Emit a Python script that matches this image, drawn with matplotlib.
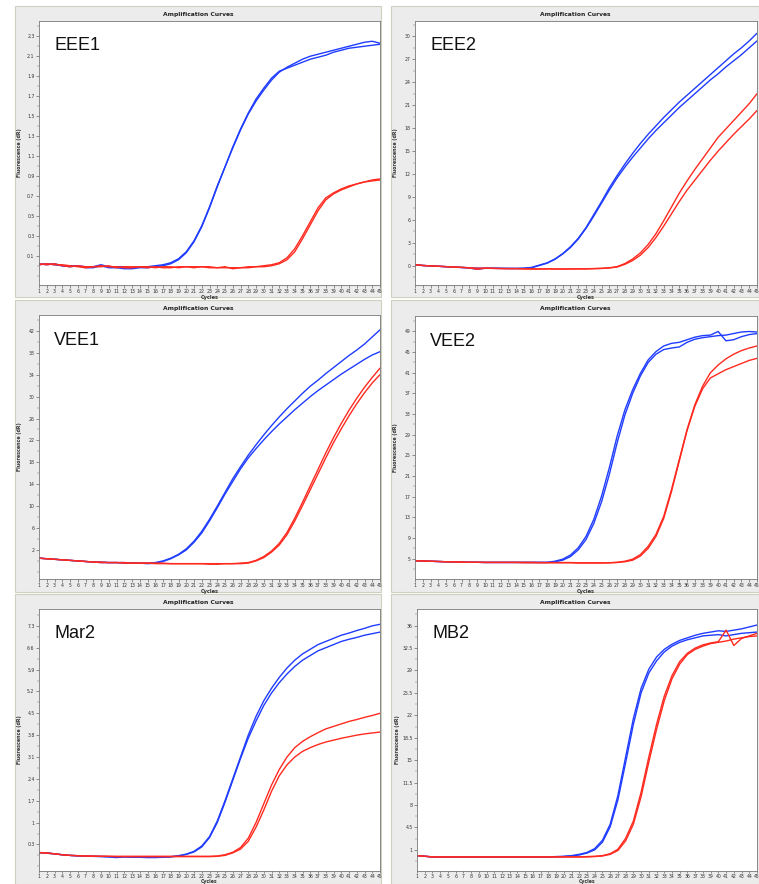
import matplotlib
matplotlib.use("Agg")
import matplotlib.pyplot as plt
from matplotlib.patches import Rectangle
from matplotlib.ticker import FixedLocator, AutoMinorLocator
import numpy as np

cycles = list(range(1, 46))

# ---------------- data ----------------
eee1_blue_a = [0.02, 0.01, 0.02, 0.00, 0.00, 0.00, -0.01, -0.01, 0.01, -0.01,
               -0.01, -0.01, -0.02, -0.01, -0.01, 0.00, 0.01, 0.03, 0.07, 0.14,
               0.25, 0.40, 0.59, 0.80, 0.99, 1.18, 1.36, 1.52, 1.65, 1.76,
               1.86, 1.94, 1.99, 2.03, 2.07, 2.10, 2.12, 2.14, 2.16, 2.18,
               2.20, 2.22, 2.24, 2.25, 2.23]
eee1_blue_b = [0.01, 0.02, 0.01, 0.00, -0.01, 0.00, -0.02, -0.02, 0.00, -0.02,
               -0.02, -0.03, -0.03, -0.02, -0.02, -0.01, 0.00, 0.02, 0.06, 0.13,
               0.24, 0.39, 0.58, 0.79, 0.99, 1.19, 1.37, 1.53, 1.67, 1.78,
               1.88, 1.95, 1.98, 2.01, 2.04, 2.07, 2.09, 2.11, 2.14, 2.16,
               2.18, 2.19, 2.20, 2.21, 2.22]
eee1_red_a = [0.02, 0.01, 0.02, 0.00, -0.01, 0.00, -0.01, -0.01, -0.01, 0.00,
              -0.02, -0.01, -0.01, -0.01, -0.01, -0.02, -0.01, -0.01, -0.02, -0.01,
              -0.01, -0.01, -0.01, -0.02, -0.02, -0.02, -0.02, -0.01, -0.01, 0.00,
              0.01, 0.03, 0.08, 0.17, 0.30, 0.44, 0.58, 0.68, 0.73, 0.77,
              0.80, 0.82, 0.84, 0.86, 0.87]
eee1_red_b = [0.01, 0.02, 0.01, 0.01, 0.00, -0.01, -0.02, -0.01, 0.00, -0.01,
              -0.01, -0.02, -0.02, -0.01, -0.02, -0.01, -0.02, -0.02, -0.01, -0.01,
              -0.02, -0.01, -0.02, -0.02, -0.01, -0.03, -0.02, -0.02, -0.01, -0.01,
              0.00, 0.02, 0.06, 0.14, 0.27, 0.41, 0.55, 0.66, 0.72, 0.76,
              0.79, 0.82, 0.84, 0.85, 0.86]

eee2_blue_a = [0.15, 0.05, 0.00, -0.05, -0.10, -0.15, -0.20, -0.25, -0.30, -0.30,
               -0.30, -0.32, -0.32, -0.33, -0.30, -0.20, 0.10, 0.40, 0.90, 1.60,
               2.50, 3.60, 5.00, 6.70, 8.40, 10.2, 11.8, 13.3, 14.7, 16.0,
               17.2, 18.3, 19.4, 20.4, 21.4, 22.3, 23.2, 24.1, 25.0, 25.9,
               26.8, 27.7, 28.5, 29.4, 30.4]
eee2_blue_b = [0.15, 0.05, 0.00, -0.05, -0.12, -0.17, -0.22, -0.28, -0.45, -0.32,
               -0.32, -0.33, -0.35, -0.35, -0.33, -0.25, 0.05, 0.35, 0.85, 1.55,
               2.40, 3.50, 4.90, 6.50, 8.20, 9.90, 11.5, 12.9, 14.2, 15.4,
               16.6, 17.7, 18.7, 19.7, 20.7, 21.6, 22.5, 23.4, 24.3, 25.1,
               26.0, 26.8, 27.6, 28.5, 29.4]
eee2_red_a = [0.15, 0.05, 0.00, -0.05, -0.10, -0.15, -0.20, -0.25, -0.45, -0.30,
              -0.33, -0.35, -0.35, -0.35, -0.38, -0.38, -0.40, -0.38, -0.40, -0.40,
              -0.40, -0.38, -0.38, -0.35, -0.32, -0.25, -0.10, 0.30, 0.90, 1.70,
              2.80, 4.20, 5.90, 7.70, 9.50, 11.1, 12.6, 14.0, 15.4, 16.8,
              17.9, 19.0, 20.1, 21.2, 22.5]
eee2_red_b = [0.15, 0.05, 0.00, -0.05, -0.10, -0.15, -0.20, -0.25, -0.30, -0.30,
              -0.32, -0.35, -0.37, -0.37, -0.40, -0.42, -0.42, -0.40, -0.40, -0.42,
              -0.40, -0.40, -0.40, -0.37, -0.34, -0.28, -0.15, 0.20, 0.70, 1.40,
              2.40, 3.70, 5.20, 6.80, 8.40, 9.90, 11.2, 12.5, 13.8, 15.0,
              16.1, 17.2, 18.2, 19.2, 20.3]

vee1_blue_a = [0.5, 0.4, 0.3, 0.2, 0.1, 0.0, -0.1, -0.2, -0.2, -0.3,
               -0.3, -0.3, -0.4, -0.4, -0.4, -0.3, 0.0, 0.5, 1.2, 2.2,
               3.6, 5.4, 7.6, 10.0, 12.5, 15.0, 17.2, 19.3, 21.2, 23.0,
               24.7, 26.3, 27.8, 29.2, 30.6, 31.9, 33.0, 34.2, 35.3, 36.4,
               37.5, 38.5, 39.6, 40.9, 42.2]
vee1_blue_b = [0.5, 0.4, 0.3, 0.2, 0.1, 0.0, -0.1, -0.2, -0.3, -0.3,
               -0.3, -0.4, -0.4, -0.4, -0.5, -0.4, -0.1, 0.4, 1.1, 2.0,
               3.4, 5.1, 7.3, 9.7, 12.2, 14.5, 16.8, 18.8, 20.5, 22.1,
               23.6, 25.0, 26.3, 27.6, 28.8, 30.0, 31.1, 32.1, 33.1, 34.1,
               35.0, 35.9, 36.8, 37.6, 38.2]
vee1_red_a = [0.5, 0.4, 0.3, 0.2, 0.1, 0.0, -0.1, -0.2, -0.2, -0.3,
              -0.3, -0.3, -0.4, -0.4, -0.4, -0.4, -0.4, -0.5, -0.5, -0.5,
              -0.5, -0.5, -0.5, -0.5, -0.5, -0.5, -0.4, -0.3, 0.1, 0.8,
              1.8, 3.2, 5.2, 7.8, 10.7, 13.7, 16.7, 19.7, 22.5, 25.1,
              27.5, 29.7, 31.7, 33.5, 35.2]
vee1_red_b = [0.5, 0.4, 0.3, 0.2, 0.1, 0.0, -0.1, -0.2, -0.3, -0.3,
              -0.3, -0.4, -0.4, -0.4, -0.4, -0.5, -0.5, -0.5, -0.5, -0.5,
              -0.5, -0.5, -0.6, -0.6, -0.5, -0.5, -0.5, -0.4, 0.0, 0.6,
              1.6, 2.9, 4.8, 7.3, 10.1, 13.0, 15.9, 18.8, 21.6, 24.1,
              26.5, 28.7, 30.7, 32.5, 34.0]

vee2_blue_a = [4.6, 4.55, 4.5, 4.45, 4.4, 4.4, 4.35, 4.3, 4.3, 4.3,
               4.3, 4.3, 4.3, 4.3, 4.3, 4.3, 4.3, 4.3, 4.5, 4.9,
               5.7, 7.1, 9.3, 12.6, 17.1, 22.6, 28.7, 33.8, 37.7, 40.9,
               43.5, 45.1, 46.2, 46.7, 46.9, 47.4, 47.9, 48.2, 48.3, 49.0,
               47.2, 47.4, 48.0, 48.4, 48.6]
vee2_blue_b = [4.6, 4.55, 4.5, 4.45, 4.4, 4.35, 4.3, 4.3, 4.3, 4.25,
               4.25, 4.25, 4.25, 4.25, 4.25, 4.25, 4.25, 4.25, 4.4, 4.7,
               5.4, 6.7, 8.7, 11.8, 16.0, 21.3, 27.4, 32.8, 37.0, 40.4,
               43.0, 44.6, 45.5, 45.8, 46.0, 46.9, 47.5, 47.8, 48.0, 48.2,
               48.3, 48.6, 48.9, 49.0, 48.9]
vee2_red_a = [4.6, 4.55, 4.5, 4.45, 4.4, 4.4, 4.35, 4.3, 4.3, 4.3,
              4.3, 4.3, 4.3, 4.3, 4.3, 4.3, 4.25, 4.25, 4.25, 4.25,
              4.25, 4.2, 4.2, 4.2, 4.2, 4.2, 4.3, 4.5, 4.9, 5.8,
              7.4, 9.7, 13.2, 18.4, 24.2, 30.0, 34.8, 38.4, 41.0, 42.5,
              43.7, 44.6, 45.3, 45.8, 46.2]
vee2_red_b = [4.6, 4.55, 4.5, 4.45, 4.4, 4.35, 4.3, 4.3, 4.3, 4.25,
              4.25, 4.25, 4.25, 4.25, 4.2, 4.2, 4.2, 4.2, 4.2, 4.2,
              4.2, 4.15, 4.15, 4.15, 4.15, 4.2, 4.25, 4.4, 4.7, 5.5,
              7.0, 9.3, 12.8, 18.0, 23.9, 29.8, 34.5, 37.9, 40.0, 40.8,
              41.6, 42.2, 42.8, 43.4, 43.8]

mar2_blue_a = [0.04, 0.03, 0.00, -0.03, -0.05, -0.06, -0.07, -0.08, -0.08, -0.09,
               -0.11, -0.09, -0.10, -0.10, -0.10, -0.11, -0.10, -0.09, -0.06, -0.01,
               0.08, 0.25, 0.55, 1.05, 1.70, 2.40, 3.10, 3.80, 4.40, 4.90,
               5.30, 5.65, 5.95, 6.20, 6.40, 6.55, 6.70, 6.80, 6.90, 7.00,
               7.07, 7.15, 7.22, 7.30, 7.35]
mar2_blue_b = [0.04, 0.02, 0.00, -0.03, -0.05, -0.07, -0.08, -0.08, -0.09, -0.10,
               -0.12, -0.10, -0.11, -0.11, -0.12, -0.12, -0.11, -0.10, -0.07, -0.02,
               0.06, 0.22, 0.52, 1.00, 1.65, 2.35, 3.05, 3.70, 4.25, 4.75,
               5.15, 5.48, 5.76, 6.00, 6.20, 6.35, 6.50, 6.60, 6.70, 6.80,
               6.87, 6.93, 7.00, 7.05, 7.10]
mar2_red_a = [0.04, 0.03, 0.00, -0.03, -0.05, -0.06, -0.07, -0.07, -0.08, -0.08,
              -0.08, -0.08, -0.08, -0.08, -0.08, -0.08, -0.08, -0.08, -0.08, -0.08,
              -0.08, -0.08, -0.08, -0.07, -0.03, 0.05, 0.20, 0.50, 1.00, 1.60,
              2.20, 2.70, 3.10, 3.40, 3.60, 3.75, 3.88, 4.00, 4.08, 4.16,
              4.24, 4.30, 4.37, 4.43, 4.50]
mar2_red_b = [0.04, 0.02, 0.00, -0.03, -0.05, -0.06, -0.07, -0.08, -0.08, -0.08,
              -0.09, -0.09, -0.09, -0.09, -0.09, -0.09, -0.09, -0.09, -0.09, -0.09,
              -0.09, -0.09, -0.09, -0.08, -0.05, 0.03, 0.15, 0.40, 0.85, 1.40,
              2.00, 2.50, 2.85, 3.10, 3.28, 3.40, 3.50, 3.58, 3.64, 3.70,
              3.75, 3.80, 3.84, 3.87, 3.90]

mb2_blue_a = [0.1, 0.0, -0.1, -0.1, -0.1, -0.1, -0.1, -0.1, -0.1, -0.1,
              -0.1, -0.1, -0.1, -0.1, -0.1, -0.1, -0.1, -0.1, -0.05, 0.0,
              0.1, 0.3, 0.6, 1.2, 2.5, 5.0, 9.5, 15.5, 21.5, 26.2,
              29.2, 31.1, 32.3, 33.1, 33.7, 34.1, 34.5, 34.8, 35.0, 35.2,
              35.1, 35.3, 35.5, 35.8, 36.1]
mb2_blue_b = [0.1, 0.0, -0.1, -0.1, -0.1, -0.1, -0.1, -0.1, -0.1, -0.1,
              -0.1, -0.1, -0.1, -0.1, -0.1, -0.1, -0.1, -0.1, -0.1, -0.05,
              0.05, 0.2, 0.5, 1.0, 2.2, 4.6, 8.8, 14.6, 20.6, 25.5,
              28.6, 30.5, 31.9, 32.8, 33.4, 33.8, 34.1, 34.4, 34.5, 34.6,
              34.4, 34.6, 34.8, 34.9, 35.0]
mb2_red_a = [0.1, 0.0, -0.1, -0.1, -0.1, -0.1, -0.1, -0.1, -0.1, -0.1,
             -0.1, -0.1, -0.1, -0.1, -0.1, -0.1, -0.1, -0.1, -0.1, -0.1,
             -0.1, -0.1, -0.05, 0.0, 0.1, 0.4, 1.1, 2.8, 5.5, 10.0,
             15.5, 20.6, 25.0, 28.2, 30.4, 31.7, 32.5, 33.0, 33.3, 33.5,
             35.3, 32.9, 34.0, 34.4, 34.8]
mb2_red_b = [0.1, 0.0, -0.1, -0.1, -0.1, -0.1, -0.1, -0.1, -0.1, -0.1,
             -0.1, -0.1, -0.1, -0.1, -0.1, -0.1, -0.1, -0.1, -0.1, -0.1,
             -0.1, -0.1, -0.1, -0.05, 0.05, 0.3, 0.9, 2.4, 5.0, 9.3,
             14.7, 19.8, 24.3, 27.7, 30.0, 31.5, 32.3, 32.8, 33.2, 33.4,
             33.6, 33.9, 34.1, 34.3, 34.4]

panel_names = ["EEE1", "EEE2", "VEE1", "VEE2", "Mar2", "MB2"]
panel_title = "Amplification Curves"
x_label = "Cycles"
y_label = "Fluorescence (dR)"

eee1_ticks = [0.1, 0.3, 0.5, 0.7, 0.9, 1.1, 1.3, 1.5, 1.7, 1.9, 2.1, 2.3]
eee2_ticks = [0, 3, 6, 9, 12, 15, 18, 21, 24, 27, 30]
vee1_ticks = [2, 6, 10, 14, 18, 22, 26, 30, 34, 38, 42]
vee2_ticks = [5, 9, 13, 17, 21, 25, 29, 33, 37, 41, 45, 49]
mar2_ticks = [0.3, 1, 1.7, 2.4, 3.1, 3.8, 4.5, 5.2, 5.9, 6.6, 7.3]
mb2_ticks = [1, 4.5, 8, 11.5, 15, 18.5, 22, 25.5, 29, 32.5, 36]

# ---------------- layout ----------------
W, H = 759, 884
fig = plt.figure(figsize=(W / 100, H / 100), dpi=100)
fig.patch.set_facecolor("white")


def frect(l, t, r, b):
    return [l / W, 1 - b / H, (r - l) / W, (b - t) / H]


bg_panels = [(15, 6, 381, 297), (391, 6, 759, 297),
             (15, 300, 381, 592), (391, 300, 759, 592),
             (15, 594, 381, 884), (391, 594, 759, 884)]
for (l, t, r, b) in bg_panels:
    x0, y0, w, h = frect(l, t, r, b)
    fig.patches.append(Rectangle((x0, y0), w, h, transform=fig.transFigure,
                                 facecolor="#ececec", edgecolor="#cfcfc0",
                                 linewidth=0.8, zorder=-5))

axes_px = [(39, 21, 380, 285), (415, 21, 757, 285),
           (39, 315, 380, 579), (415, 316, 757, 579),
           (39, 609, 380, 871), (417, 609, 757, 871)]
ylims = [(-0.193, 2.453), (-2.5, 32.0), (-3.3, 44.9), (1.06, 52.0),
         (-0.55, 7.84), (-2.3, 38.6)]
yticks_all = [eee1_ticks, eee2_ticks, vee1_ticks, vee2_ticks, mar2_ticks, mb2_ticks]
curves_all = [
    (eee1_blue_a, eee1_blue_b, eee1_red_a, eee1_red_b),
    (eee2_blue_a, eee2_blue_b, eee2_red_a, eee2_red_b),
    (vee1_blue_a, vee1_blue_b, vee1_red_a, vee1_red_b),
    (vee2_blue_a, vee2_blue_b, vee2_red_a, vee2_red_b),
    (mar2_blue_a, mar2_blue_b, mar2_red_a, mar2_red_b),
    (mb2_blue_a, mb2_blue_b, mb2_red_a, mb2_red_b),
]
BLUE = "#1f3cff"
RED = "#ff2a1f"

for i in range(6):
    l, t, r, b = axes_px[i]
    bottom_row = b > 860
    ax = fig.add_axes(frect(l, t, r, b))
    ax.set_zorder(1)
    ax.set_facecolor("white")
    ba, bb, ra, rb = curves_all[i]
    for ys, col in ((ba, BLUE), (bb, BLUE), (ra, RED), (rb, RED)):
        ax.plot(cycles, ys, color=col, lw=1.0, solid_capstyle="round")
    ax.set_xlim(1, 45)
    ax.set_ylim(*ylims[i])
    ax.xaxis.set_major_locator(FixedLocator(cycles))
    ax.set_xticklabels([str(c) for c in cycles])
    ax.yaxis.set_major_locator(FixedLocator(yticks_all[i]))
    ax.set_yticklabels([f"{v:g}" for v in yticks_all[i]])
    ax.yaxis.set_minor_locator(AutoMinorLocator(2))
    ax.tick_params(axis="both", which="major", labelsize=3.3, length=2,
                   width=0.4, pad=1.2, colors="#444444", labelcolor="#333333")
    if bottom_row:
        ax.tick_params(axis="x", which="major", length=1.5, pad=0.5)
    ax.tick_params(axis="y", which="minor", length=1.2, width=0.3, colors="#666666")
    for s in ax.spines.values():
        s.set_color("#777777")
        s.set_linewidth(0.6)
    ax.set_xlabel(x_label, fontsize=3.6 if not bottom_row else 3.3,
                  labelpad=0.2 if not bottom_row else 0.0,
                  color="#333333", fontweight="bold")
    ax.set_ylabel(y_label, fontsize=3.4, color="#333333", fontweight="bold")
    ax.yaxis.set_label_coords(-17 / (r - l), 0.5)
    ax.text(15 / (r - l), 1 - 25 / (b - t), panel_names[i], transform=ax.transAxes,
            fontsize=13, family="Liberation Sans", va="center", ha="left",
            color="#111111")
    pl, pt, pr, pb = bg_panels[i]
    fig.text(((pl + pr) / 2) / W, 1 - (pt + 8.5) / H, panel_title,
             fontsize=4.3, fontweight="bold", ha="center", va="center",
             color="#222222")

fig.savefig("out.png", dpi=100, facecolor="white")
